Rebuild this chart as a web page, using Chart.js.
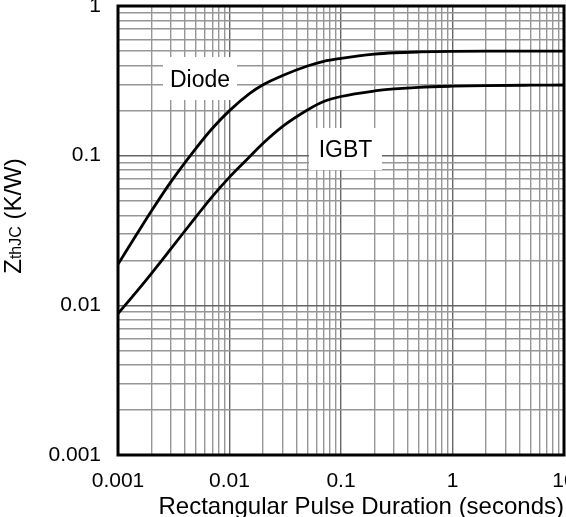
<!DOCTYPE html>
<html>
<head>
<meta charset="utf-8">
<script src="https://cdn.jsdelivr.net/npm/chart.js@4/dist/chart.umd.min.js"></script>
<style>
html,body{margin:0;padding:0;background:#fff;}
</style>
</head>
<body>
<canvas id="zth" width="566" height="517"></canvas>
<script>
// Transient thermal impedance, junction to case
const pulseTimes = [0.001, 0.0015, 0.002, 0.003, 0.005, 0.007, 0.01, 0.015, 0.02, 0.03, 0.05, 0.07, 0.1, 0.2, 0.3, 0.5, 1, 2, 5, 10];
const diodeZth   = [0.0188, 0.0305, 0.0428, 0.0673, 0.112, 0.152, 0.200, 0.259, 0.298, 0.343, 0.397, 0.427, 0.447, 0.477, 0.487, 0.493, 0.497, 0.499, 0.5, 0.5];
const igbtZth    = [0.0088, 0.0126, 0.01638, 0.0240, 0.0390, 0.0533, 0.0719, 0.0975, 0.121, 0.157, 0.202, 0.230, 0.2485, 0.2705, 0.279, 0.2863, 0.2912, 0.2939, 0.2957, 0.2966];

const xDecades = [0.001, 0.01, 0.1, 1, 10];
const xTickLabels = ['0.001', '0.01', '0.1', '1', '10'];
const yDecades = [0.001, 0.01, 0.1, 1];
const yTickLabels = ['0.001', '0.01', '0.1', '1'];

const FONT = "'Liberation Sans', Arial, sans-serif";
const GRID_MAJOR = '#666';
const GRID_MINOR = '#969696';

// decades plus the 2..9 multiples between them
function logTicks(decades){
    const out = [];
    decades.forEach((d, i) => {
        out.push({value: d});
        if(i < decades.length - 1) for(let m = 2; m < 10; m++) out.push({value: d * m});
    });
    return out;
}
function labelFor(value, decades, labels){
    const i = decades.findIndex(d => Math.abs(value / d - 1) < 1e-6);
    return i < 0 ? '' : labels[i];
}
function gridColor(decades){
    return ctx => (ctx.tick && labelFor(ctx.tick.value, decades, decades.map(String)) !== '') ? GRID_MAJOR : GRID_MINOR;
}

// white boxed curve names, drawn over the grid
const curveNames = {
    id: 'curveNames',
    beforeDatasetsDraw(chart){
        const c = chart.ctx;
        const names = [
            {text: 'Diode', x: 163, y: 57, w: 74, h: 43},
            {text: 'IGBT', x: 309, y: 128, w: 73, h: 42}
        ];
        c.save();
        c.font = '23px ' + FONT;
        c.textAlign = 'center';
        c.textBaseline = 'middle';
        names.forEach(n => {
            c.fillStyle = '#fff';
            c.fillRect(n.x, n.y, n.w, n.h);
            c.fillStyle = '#000';
            c.fillText(n.text, n.x + n.w / 2, n.y + n.h / 2 + 2);
        });
        c.restore();
    },
    afterDraw(chart){
        const c = chart.ctx, a = chart.chartArea;
        c.save();
        // frame
        c.strokeStyle = '#000';
        c.lineWidth = 3;
        c.strokeRect(a.left, a.top, a.right - a.left, a.bottom - a.top);
        // y axis title with subscript
        c.translate(14, 216);
        c.rotate(-Math.PI / 2);
        c.fillStyle = '#000';
        c.textBaseline = 'middle';
        c.textAlign = 'left';
        const big = '24px ' + FONT, small = '16px ' + FONT;
        c.font = big;  const wZ = c.measureText('Z').width;
        c.font = small; const wS = c.measureText('thJC').width;
        c.font = big;  const wU = c.measureText(' (K/W)').width;
        let x = -(wZ + wS + wU) / 2;
        c.font = big; c.fillText('Z', x, 0); x += wZ;
        c.font = small; c.fillText('thJC', x, 3); x += wS;
        c.font = big; c.fillText(' (K/W)', x, 0);
        c.restore();
    }
};

new Chart(document.getElementById('zth'), {
    type: 'line',
    data: {
        datasets: [
            {label: 'Diode', data: pulseTimes.map((t, i) => ({x: t, y: diodeZth[i]}))},
            {label: 'IGBT', data: pulseTimes.map((t, i) => ({x: t, y: igbtZth[i]}))}
        ].map(ds => Object.assign(ds, {
            borderColor: '#000', borderWidth: 2.8, pointRadius: 0,
            cubicInterpolationMode: 'monotone', fill: false
        }))
    },
    options: {
        responsive: false,
        animation: false,
        layout: {padding: {left: 0, right: 2, top: 6, bottom: 0}},
        plugins: {legend: {display: false}, tooltip: {enabled: false}},
        scales: {
            x: {
                type: 'logarithmic',
                min: 0.001, max: 10,
                afterBuildTicks: s => { s.ticks = logTicks(xDecades); },
                afterFit: s => { s.height = 62; s.paddingLeft = 0; s.paddingRight = 0; },
                border: {display: false},
                grid: {color: gridColor(xDecades), lineWidth: 1.4, drawTicks: false},
                ticks: {
                    autoSkip: false, maxRotation: 0, padding: 14,
                    color: '#000', font: {family: FONT, size: 21},
                    callback: v => labelFor(v, xDecades, xTickLabels)
                },
                title: {
                    display: true, align: 'end', text: 'Rectangular Pulse Duration (seconds)',
                    color: '#000', font: {family: FONT, size: 24, lineHeight: 0.8},
                    padding: {top: 0, bottom: 0}
                }
            },
            y: {
                type: 'logarithmic',
                min: 0.001, max: 1,
                afterBuildTicks: s => { s.ticks = logTicks(yDecades); },
                afterFit: s => { s.width = 118; s.paddingTop = 0; s.paddingBottom = 0; },
                border: {display: false},
                grid: {color: gridColor(yDecades), lineWidth: 1.4, drawTicks: false},
                ticks: {
                    autoSkip: false, padding: 17,
                    color: '#000', font: {family: FONT, size: 21},
                    callback: v => labelFor(v, yDecades, yTickLabels)
                }
            }
        }
    },
    plugins: [curveNames]
});
</script>
</body>
</html>
